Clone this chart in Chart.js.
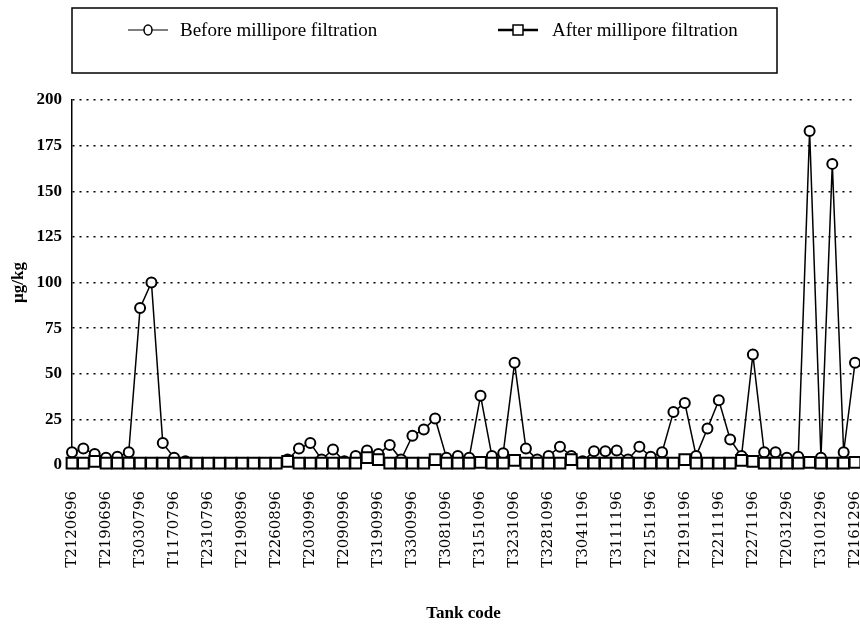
<!DOCTYPE html>
<html>
<head>
<meta charset="utf-8">
<script src="https://cdn.jsdelivr.net/npm/chart.js@4.4.1/dist/chart.umd.min.js"></script>
<style>
  html, body { margin: 0; padding: 0; background: #ffffff; }
  #wrap { width: 860px; height: 628px; }
</style>
</head>
<body>
<div id="wrap"><canvas id="chart" width="860" height="628"></canvas></div>
<script>
// tank codes printed under every third point
const tickLabels = [
  "T2120696", "T2190696", "T3030796", "T1170796", "T2310796", "T2190896",
  "T2260896", "T2030996", "T2090996", "T3190996", "T3300996", "T3081096",
  "T3151096", "T3231096", "T3281096", "T3041196", "T3111196", "T2151196",
  "T2191196", "T2211196", "T2271196", "T2031296", "T3101296", "T2161296"
]

// µg/kg, one value per tank (70 tanks)
const beforeValues = [
  7, 9, 6, 4, 4.5, 7, 86, 100, 12, 4,
  2, 1, 1, 1, 1, 1, 1, 1, 1, 3,
  9, 12, 3, 8.5, 2, 5, 8, 6, 11, 3,
  16, 19.5, 25.5, 4, 5, 4, 38, 5, 6.5, 56,
  9, 3, 5, 10, 5, 2, 7.5, 7.5, 8, 3,
  10, 4.5, 7, 29, 34, 5, 20, 35.5, 14, 5,
  60.5, 7, 7, 4, 4.5, 183, 4, 165, 7, 56
]

const afterValues = [
  1, 1, 2, 1, 1, 1, 1, 1, 1, 1,
  1, 1, 1, 1, 1, 1, 1, 1, 1, 2,
  1, 1, 1, 1, 1, 1, 4, 3, 1, 1,
  1, 1, 3, 1, 1, 1, 1.5, 1, 1, 2.5,
  1, 1, 1, 1, 3, 1, 1, 1, 1, 1,
  1, 1, 1, 1, 3, 1, 1, 1, 1, 2.5,
  2, 1, 1, 1, 1, 1.5, 1, 1, 1, 1.5
]

const yTicks = [0, 25, 50, 75, 100, 125, 150, 175, 200]

const categories = beforeValues.map((v, i) => i % 3 === 0 ? tickLabels[i / 3] : "")

const serif = "'Liberation Serif', 'Times New Roman', serif"

const boxLegend = {
  id: "boxLegend",
  afterDraw(chart) {
    const ctx = chart.ctx
    ctx.save()
    ctx.strokeStyle = "#000"
    ctx.lineWidth = 1.5
    ctx.strokeRect(72, 8, 705, 65)

    const items = [
      { x: 128, ds: chart.data.datasets[1], lw: 1.2 },
      { x: 498, ds: chart.data.datasets[0], lw: 2.5 }
    ]
    items.forEach(it => {
      const cy = 30
      ctx.lineWidth = it.lw
      ctx.beginPath()
      ctx.moveTo(it.x, cy)
      ctx.lineTo(it.x + 40, cy)
      ctx.stroke()
      ctx.lineWidth = 1.5
      ctx.fillStyle = "#fff"
      ctx.beginPath()
      if (it.ds.pointStyle === "rect") {
        ctx.rect(it.x + 15, cy - 5, 10, 10)
      } else {
        ctx.ellipse(it.x + 20, cy, 4, 5, 0, 0, Math.PI * 2)
      }
      ctx.fill()
      ctx.stroke()
      ctx.fillStyle = "#000"
      ctx.font = "19px " + serif
      ctx.textBaseline = "middle"
      ctx.fillText(it.ds.label, it.x + (it.ds.pointStyle === "rect" ? 54 : 52), cy + 1)
    })
    ctx.restore()
  }
}

new Chart(document.getElementById("chart"), {
  type: "line",
  data: {
    labels: categories,
    datasets: [
      {
        label: "After millipore filtration",
        data: afterValues,
        order: 0,
        clip: false,
        borderColor: "#000",
        borderWidth: 2,
        pointStyle: "rect",
        pointRadius: 7.6,
        pointBorderWidth: 2,
        pointBackgroundColor: "#fff",
        pointBorderColor: "#000",
        tension: 0
      },
      {
        label: "Before millipore filtration",
        data: beforeValues,
        order: 1,
        clip: false,
        borderColor: "#000",
        borderWidth: 1.5,
        pointStyle: "circle",
        pointRadius: 5,
        pointBorderWidth: 2,
        pointBackgroundColor: "#fff",
        pointBorderColor: "#000",
        tension: 0
      }
    ]
  },
  options: {
    responsive: false,
    animation: false,
    layout: {
      autoPadding: false,
      padding: { left: 0, right: 5, top: 100, bottom: 0 }
    },
    plugins: {
      legend: { display: false },
      tooltip: { enabled: false }
    },
    scales: {
      x: {
        offset: false,
        border: { display: false },
        grid: { display: false },
        ticks: {
          autoSkip: false,
          minRotation: 90,
          maxRotation: 90,
          padding: 18,
          color: "#000",
          font: { family: "'DejaVu Serif', serif", size: 15 }
        },
        title: {
          display: true,
          text: "Tank code",
          color: "#000",
          font: { family: serif, size: 17, weight: "bold" },
          padding: { top: 12 }
        },
        afterFit(scale) {
          scale.height = 163
          scale.paddingLeft = 0
          scale.paddingRight = 0
        }
      },
      y: {
        min: 0,
        max: 200,
        afterBuildTicks(scale) { scale.ticks = yTicks.map(v => ({ value: v })) },
        grid: {
          drawTicks: false,
          color: ctx => ctx.tick && ctx.tick.value === 0 ? "rgba(0,0,0,0)" : "#000",
          lineWidth: 1.5
        },
        border: { display: true, color: "#000", width: 1.5, dash: [2, 5] },
        ticks: {
          padding: 10,
          color: "#000",
          font: { family: serif, size: 17, weight: "bold" }
        },
        title: {
          display: true,
          text: "µg/kg",
          color: "#000",
          font: { family: serif, size: 17, weight: "bold" },
          padding: { top: 8, bottom: 2 }
        },
        afterFit(scale) { scale.width = 72 }
      }
    }
  },
  plugins: [boxLegend]
})
</script>
</body>
</html>
